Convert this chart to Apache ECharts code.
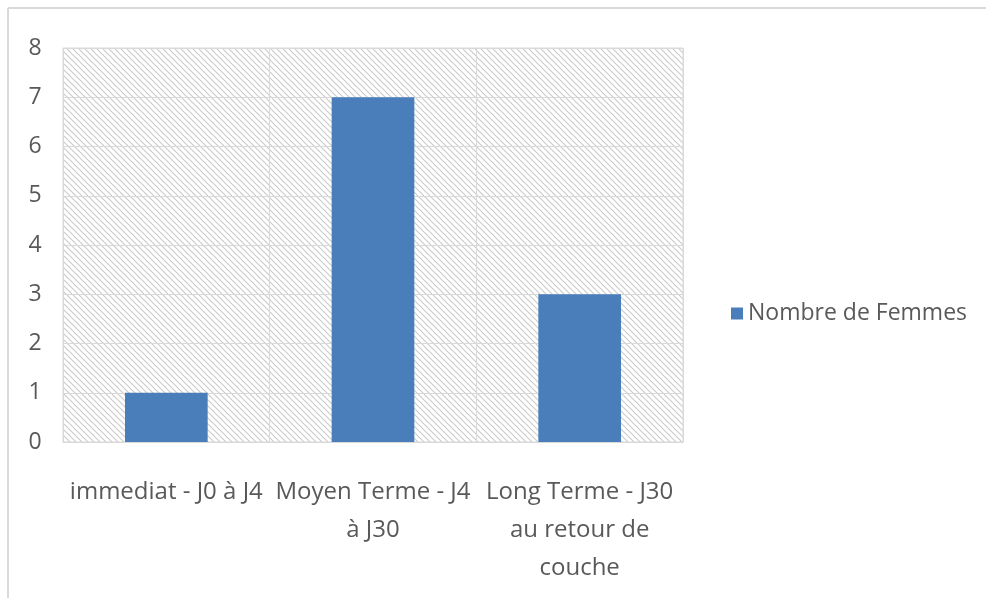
<!DOCTYPE html>
<html><head><meta charset="utf-8">
<script src="https://cdn.jsdelivr.net/npm/echarts@6/dist/echarts.min.js"></script>
<style>html,body{margin:0;padding:0;background:#fff}#c{width:986px;height:603px}</style>
</head><body><div id="c"></div>
<script>
const categories = ["immediat - J0 à J4", "Moyen Terme - J4\nà J30", "Long Terme - J30\nau retour de\ncouche"];
const seriesName = "Nombre de Femmes";
const values = [1, 7, 3];
const yTicks = [0, 1, 2, 3, 4, 5, 6, 7, 8];

const pc = document.createElement('canvas');
pc.width = 6; pc.height = 6;
const g = pc.getContext('2d');
g.fillStyle = '#ffffff'; g.fillRect(0, 0, 6, 6);
g.strokeStyle = '#cccccc'; g.lineWidth = 1.2;
g.beginPath();
g.moveTo(-1, -1); g.lineTo(7, 7);
g.moveTo(-7, -1); g.lineTo(1, 7);
g.moveTo(5, -1); g.lineTo(13, 7);
g.stroke();

const font = '"Open Sans", sans-serif';
const chart = echarts.init(document.getElementById('c'));
chart.setOption({
  animation: false,
  backgroundColor: '#ffffff',
  graphic: [
    {type: 'line', shape: {x1: 8, y1: 8, x2: 986, y2: 8}, style: {stroke: '#d9d9d9', lineWidth: 2}},
    {type: 'line', shape: {x1: 8, y1: 8, x2: 8, y2: 598}, style: {stroke: '#d9d9d9', lineWidth: 2}}
  ],
  grid: {left: 63, right: 303, top: 48, bottom: 161, show: true,
    backgroundColor: {image: pc, repeat: 'repeat'}, borderColor: '#d9d9d9', borderWidth: 1},
  legend: {
    data: [seriesName], left: 726, top: 297, itemWidth: 12, itemHeight: 12, itemGap: 8,
    icon: 'rect',
    textStyle: {fontFamily: font, fontSize: 23, color: '#595959'}
  },
  xAxis: {
    type: 'category', data: categories,
    axisLine: {show: true, lineStyle: {color: '#d9d9d9'}},
    axisTick: {show: false},
    splitLine: {show: true, lineStyle: {color: '#d9d9d9', width: 1}},
    axisLabel: {interval: 0, margin: 31, fontFamily: font, fontSize: 24, color: '#595959', lineHeight: 38, verticalAlign: 'top'}
  },
  yAxis: {
    type: 'value', min: 0, max: 8, interval: 1,
    axisLine: {show: false}, axisTick: {show: false},
    splitLine: {show: true, lineStyle: {color: '#d9d9d9', width: 1}},
    axisLabel: {margin: 28, fontFamily: font, fontSize: 23, color: '#595959', align: 'center',
      formatter: v => yTicks.includes(v) ? String(v) : ''}
  },
  series: [{
    name: seriesName, type: 'bar', data: values, barWidth: '40%',
    itemStyle: {color: '#4a7ebb'}
  }]
});
</script></body></html>
